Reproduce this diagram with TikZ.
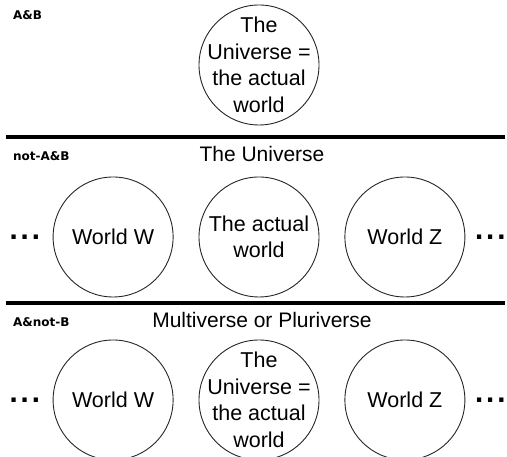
\documentclass[tikz,border=0pt]{standalone}
\usepackage{fontspec}
\setmainfont{Liberation Sans}
\newfontfamily\tagfont{DejaVu Sans}
\usetikzlibrary{positioning}

\begin{document}
\begin{tikzpicture}[
    x=1pt, y=1pt,
    node distance=25pt,
    world/.style={circle, draw=black!85, line width=0.9pt, minimum size=120pt, inner sep=-8pt, align=center, font=\fontsize{21.5}{26.5}\selectfont},
    heading/.style={inner sep=0pt, font=\fontsize{21}{24}\selectfont},
    tag/.style={anchor=west, inner sep=0pt, font=\tagfont\bfseries\fontsize{12}{14}\selectfont},
    dots/.style={inner sep=0pt, font=\tagfont\bfseries\fontsize{24}{24}\selectfont},
    divider/.style={line width=4pt}
]
\useasboundingbox (0,0) rectangle (507,457);

% A&B
\node[tag] (tagAB) at (13,442) {A\&B};
\node[world] (uniAB) at (259,392) {The\\Universe =\\the actual\\world};

\draw[divider] (6,320) -- (505,320);

% not-A&B
\node[tag] (tagNAB) at (13,301) {not-A\&B};
\node[heading] (uni) at (262,303) {The Universe};
\node[world] (actNAB) at (259,220) {The actual\\world};
\node[world, left=of actNAB] (wNAB) {World W};
\node[world, right=of actNAB] (zNAB) {World Z};
\node[dots, left=12pt of wNAB] (moreWNAB) {.\hspace{2pt}.\hspace{2pt}.};
\node[dots, right=9pt of zNAB] (moreZNAB) {.\hspace{2pt}.\hspace{2pt}.};

\draw[divider] (6,154) -- (505,154);

% A&not-B
\node[tag] (tagANB) at (13,135) {A\&not-B};
\node[heading] (multi) at (262,137) {Multiverse or Pluriverse};
\node[world] (uniANB) at (259,57) {The\\Universe =\\the actual\\world};
\node[world, left=of uniANB] (wANB) {World W};
\node[world, right=of uniANB] (zANB) {World Z};
\node[dots, left=12pt of wANB] (moreWANB) {.\hspace{2pt}.\hspace{2pt}.};
\node[dots, right=9pt of zANB] (moreZANB) {.\hspace{2pt}.\hspace{2pt}.};

\end{tikzpicture}
\end{document}
